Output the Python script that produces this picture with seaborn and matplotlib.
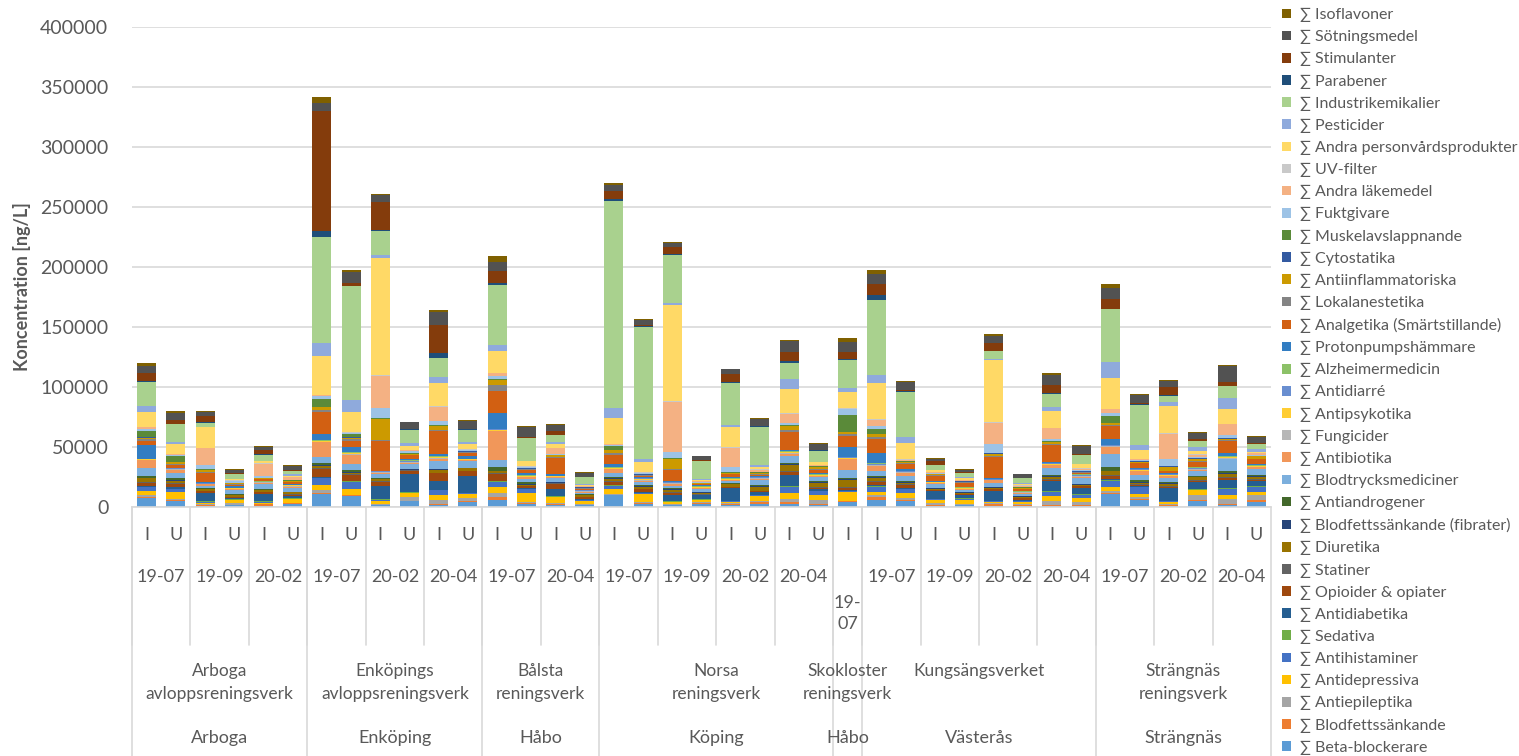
import numpy as np
import pandas as pd
import matplotlib
matplotlib.use("Agg")
import matplotlib.pyplot as plt
import seaborn as sns
from matplotlib.patches import Patch
from matplotlib.transforms import blended_transform_factory

# substance groups, bottom of the stack first
groups = ["Beta-blockerare", "Blodfettssänkande", "Antiepileptika", "Antidepressiva",
          "Antihistaminer", "Sedativa", "Antidiabetika", "Opioider & opiater", "Statiner",
          "Diuretika", "Blodfettssänkande (fibrater)", "Antiandrogener", "Blodtrycksmediciner",
          "Antibiotika", "Fungicider", "Antipsykotika", "Antidiarré", "Alzheimermedicin",
          "Protonpumpshämmare", "Analgetika (Smärtstillande)", "Lokalanestetika",
          "Antiinflammatoriska", "Cytostatika", "Muskelavslappnande", "Fuktgivare",
          "Andra läkemedel", "UV-filter", "Andra personvårdsprodukter", "Pesticider",
          "Industrikemikalier", "Parabener", "Stimulanter", "Sötningsmedel", "Isoflavoner"]
colors = ["#5B9BD5", "#ED7D31", "#A5A5A5", "#FFC000", "#4472C4", "#70AD47",
          "#255E91", "#9E480E", "#636363", "#997300", "#264478", "#43682B",
          "#7CAFDD", "#F1975A", "#B7B7B7", "#FFCD33", "#698ED0", "#8CC168",
          "#327DC2", "#D26012", "#848484", "#CC9A00", "#335AA1", "#5A8A39",
          "#9DC3E6", "#F4B183", "#C9C9C9", "#FFD966", "#8FAADC", "#A9D18E",
          "#1F4E79", "#843C0C", "#525252", "#7F6000"]

# x axis categories, one entry per bar
sample = ["I", "U", "I", "U", "I", "U",
          "I", "U", "I", "U", "I", "U",
          "I", "U", "I", "U",
          "I", "U", "I", "U", "I", "U", "I", "U",
          "I",
          "I", "U", "I", "U", "I", "U", "I", "U",
          "I", "U", "I", "U", "I", "U"]
date = ["19-07", "19-07", "19-09", "19-09", "20-02", "20-02",
        "19-07", "19-07", "20-02", "20-02", "20-04", "20-04",
        "19-07", "19-07", "20-04", "20-04",
        "19-07", "19-07", "19-09", "19-09", "20-02", "20-02", "20-04", "20-04",
        "19-07",
        "19-07", "19-07", "19-09", "19-09", "20-02", "20-02", "20-04", "20-04",
        "19-07", "19-07", "20-02", "20-02", "20-04", "20-04"]
plant = (["Arboga\navloppsreningsverk"] * 6 + ["Enköpings\navloppsreningsverk"] * 6
         + ["Bålsta\nreningsverk"] * 4 + ["Norsa\nreningsverk"] * 8
         + ["Skokloster\nreningsverk"] + ["Kungsängsverket"] * 8
         + ["Strängnäs\nreningsverk"] * 6)
kommun = (["Arboga"] * 6 + ["Enköping"] * 6 + ["Håbo"] * 4 + ["Köping"] * 8
          + ["Håbo"] + ["Västerås"] * 8 + ["Strängnäs"] * 6)

# concentrations in 1000 ng/L, same order as groups
arb_1907_i = [7.8, 0.5, 2, 2.8, 3.3, 0.5, 0.5, 2.8, 1, 2.8, 0.5, 1.7, 6, 7, 0.3, 0.3, 0.3, 0.3, 11, 3.6, 1.4, 1.4, 0.3, 5.6, 1.4, 1.4, 0.3, 12.5, 5, 20, 0.5, 6.7, 6.1, 2.8]
arb_1907_u = [5, 1, 0.5, 5.6, 2.8, 0.5, 1, 2.5, 0.8, 2, 0.5, 2, 4, 2.8, 0.5, 0.3, 0.3, 0.3, 0.5, 2.2, 1, 1, 0.3, 5, 1, 0.5, 0.3, 8, 2, 15, 0.3, 2.8, 6, 1.4]
arb_1909_i = [0.5, 1.5, 0.3, 1.4, 0.5, 0.5, 7, 1.4, 0.5, 1, 0.3, 1, 2, 1, 0.3, 0.3, 0.3, 0.3, 0.5, 8, 0.5, 1.7, 0.2, 0.3, 3.9, 14, 0.3, 17, 0.5, 3.3, 0.3, 5, 3.3, 0.8]
arb_1909_u = [1.5, 0.5, 1.5, 2, 0.5, 0.3, 0.8, 1, 0.5, 1.5, 0.3, 0.5, 3.3, 0.8, 0.3, 0.3, 0.3, 0.3, 1, 1.5, 0.5, 0.5, 0.2, 0.5, 1, 0.5, 0.5, 0.8, 0.5, 4, 0.2, 0.8, 2.5, 0.5]
arb_2002_i = [0.8, 1.8, 0.3, 0.8, 0.3, 0.8, 6, 1.4, 0.5, 1.4, 0.3, 0.5, 4, 1.4, 0.3, 0.3, 0.3, 0.3, 0.5, 1, 0.3, 0.5, 0.2, 0.3, 1.4, 10.5, 0.5, 1.4, 0.5, 5, 0.2, 4, 2.2, 0.8]
arb_2002_u = [2.8, 0.3, 0.5, 2.8, 0.5, 0.3, 2.2, 0.8, 0.5, 1.4, 0.3, 0.5, 3, 0.8, 0.5, 0.8, 0.3, 0.3, 0.5, 1.5, 0.5, 0.5, 0.2, 0.3, 0.5, 2, 0.8, 0.5, 1.2, 3, 0.2, 0.5, 3.3, 0.5]
enk_1907_i = [11, 0.5, 2.8, 4, 5.6, 0.5, 0.5, 7, 0.5, 2, 0.5, 1.4, 5.6, 12, 0.5, 0.5, 0.5, 0.5, 5, 18, 2, 2.2, 0.3, 7, 2.2, 0.5, 0.5, 32.6, 10.6, 88.3, 4.5, 100, 7, 4.7]
enk_1907_u = [8.9, 0.8, 0.5, 5, 5.6, 0.5, 0.5, 5, 0.5, 1.4, 0.5, 1.4, 5.6, 7.5, 0.5, 0.5, 0.5, 0.5, 4.7, 5, 1.2, 1.2, 0.3, 2.8, 0.5, 0.5, 0.5, 16.7, 9.7, 95, 0.5, 2.2, 9.7, 1]
enk_2002_i = [1.4, 0.5, 0.5, 2.8, 1, 0.3, 11.4, 3.3, 0.5, 1.4, 0.5, 0.8, 3.3, 0.8, 0.5, 0.3, 0.3, 0.3, 0.5, 25, 0.5, 17.3, 0.3, 0.8, 7.8, 27, 0.5, 98, 2, 20.3, 0.8, 23.4, 5.6, 0.8]
enk_2002_u = [4.7, 0.5, 2.8, 3.3, 0.5, 0.3, 15.3, 2.8, 0.5, 0.5, 0.3, 0.5, 4.2, 0.5, 0.5, 0.5, 1, 0.3, 1.4, 2.8, 0.5, 0.5, 0.3, 0.3, 1.9, 0.5, 0.5, 2.8, 2.8, 11, 0.3, 0.5, 5.6, 0.5]
enk_2004_i = [2, 0.5, 3, 4.2, 4.2, 0.5, 7.2, 6.4, 0.5, 2.5, 0.5, 0.5, 6.4, 2, 0.5, 0.5, 0.5, 0.5, 1.4, 19.5, 0.5, 3.6, 0.3, 0.5, 3.3, 12, 0.5, 19.5, 5, 16, 4.2, 23, 10.9, 1.5]
enk_2004_u = [4.2, 0.5, 2.8, 3.3, 0.5, 0.3, 14.5, 3.6, 0.5, 1.9, 0.3, 0.5, 5.6, 0.5, 0.3, 0.3, 0.5, 0.3, 1.9, 2.8, 0.5, 0.5, 0.3, 0.3, 0.5, 0.5, 0.5, 4, 2.2, 10, 0.3, 0.5, 6.4, 0.8]
bal_1907_i = [6.1, 2.2, 3.3, 5, 4.2, 0.5, 0.5, 6.1, 0.5, 1.4, 0.5, 2.8, 6.4, 23.7, 0.5, 0.5, 0.5, 0.5, 13.4, 18, 5, 3.9, 0.5, 1, 2.5, 1.9, 0.5, 18, 4.7, 50, 2.2, 9.7, 7.5, 5]
bal_1907_u = [2.8, 0.5, 0.5, 7.5, 3.6, 0.5, 0.5, 1.4, 0.5, 0.8, 0.5, 1.4, 2.8, 1.4, 0.5, 0.5, 0.5, 0.5, 2, 2.2, 0.5, 0.5, 0.3, 0.5, 0.5, 0.5, 0.5, 3.9, 0.5, 19, 0.3, 0.8, 7.8, 0.8]
bal_2004_i = [2, 0.5, 0.5, 5, 0.5, 0.3, 6.1, 4.2, 0.5, 0.8, 0.3, 0.5, 2.8, 0.8, 0.5, 0.3, 0.3, 0.3, 1.4, 13.5, 0.5, 1.4, 0.3, 0.3, 0.5, 4.7, 0.5, 3.6, 1.4, 5.6, 0.3, 2.8, 5.3, 0.8]
bal_2004_u = [1.4, 0.5, 0.5, 2.8, 0.5, 0.3, 0.8, 1.4, 0.5, 1.1, 0.3, 0.5, 1.4, 0.8, 0.5, 0.3, 0.3, 0.3, 0.3, 0.8, 0.3, 0.5, 0.2, 0.2, 0.5, 0.5, 0.3, 0.5, 0.8, 5.6, 0.2, 0.3, 3.3, 0.3]
nor_1907_i = [9.7, 0.5, 0.5, 4.2, 2.8, 0.5, 0.5, 2.2, 0.5, 2, 0.5, 1.4, 3.3, 2.8, 0.5, 0.5, 0.5, 0.5, 2.8, 7, 1.4, 2.8, 0.3, 2.8, 1.4, 0.5, 0.5, 21.2, 8, 173, 1.4, 7, 4.7, 1.4]
nor_1907_u = [2.8, 0.5, 0.5, 7.2, 0.5, 0.5, 0.8, 2, 0.5, 1.4, 0.5, 1.4, 2.2, 0.8, 0.5, 1.4, 0.3, 0.5, 0.8, 0.8, 0.5, 0.5, 0.3, 0.5, 0.5, 0.5, 0.5, 8.4, 2.2, 110.5, 0.5, 0.5, 4.2, 0.8]
nor_1909_i = [1.4, 0.5, 0.5, 1.4, 0.5, 0.5, 5.6, 1.4, 0.5, 2, 0.5, 0.8, 2.2, 1.4, 0.5, 0.5, 0.5, 0.5, 0.8, 9.2, 0.8, 7.8, 0.3, 0.5, 5, 41.8, 0.8, 80, 2.2, 40, 0.5, 6.1, 2.8, 0.8]
nor_1909_u = [2.8, 0.5, 0.5, 1.7, 0.5, 0.3, 3.3, 0.8, 0.5, 1.1, 0.3, 0.5, 2, 0.8, 0.5, 0.5, 0.3, 0.3, 0.8, 0.8, 0.5, 0.5, 0.2, 0.3, 0.5, 0.5, 0.5, 1, 0.5, 15, 0.3, 0.5, 3.3, 0.5]
nor_2002_i = [2, 0.5, 0.5, 1.4, 0.5, 0.3, 10.3, 0.8, 0.5, 2, 0.5, 0.5, 2, 0.8, 0.3, 0.3, 0.3, 0.3, 1.4, 2, 0.5, 0.5, 0.3, 0.5, 4.5, 15.9, 0.5, 16.7, 1.9, 35, 0.5, 7, 3.6, 0.8]
nor_2002_u = [2.8, 1.4, 0.5, 4.7, 0.5, 0.3, 2.2, 0.8, 0.5, 3.3, 0.5, 0.5, 4.2, 1.1, 0.5, 0.5, 0.5, 0.5, 0.5, 1.1, 0.5, 0.8, 0.3, 0.5, 0.5, 1.4, 0.5, 2, 1.4, 32, 0.3, 0.5, 5.6, 0.8]
nor_2004_i = [2.8, 1.4, 2.8, 4.7, 5, 0.5, 9.5, 2.8, 0.5, 5, 0.5, 1.4, 5.6, 2, 0.5, 0.5, 0.5, 0.5, 0.8, 15.3, 1.4, 3.3, 0.3, 0.5, 2.2, 7.5, 0.8, 19.5, 8.9, 13, 2, 7, 9.2, 1.2]
nor_2004_u = [2, 0.5, 3, 4.2, 3.6, 0.3, 1.1, 1.4, 0.5, 3.5, 0.5, 0.8, 3.3, 0.8, 0.5, 0.5, 0.5, 0.5, 0.5, 2.8, 0.5, 2, 0.3, 0.3, 0.5, 0.5, 0.5, 1.9, 0.5, 9, 0.3, 0.5, 5, 0.8]
sko_1907_i = [4.2, 0.5, 0.5, 7, 0.8, 0.5, 0.5, 2, 0.5, 6.1, 0.5, 0.8, 7, 8.9, 0.5, 0.5, 0.5, 0.5, 7.8, 9.5, 1.7, 1.4, 0.3, 13.9, 5, 0.5, 0.5, 13.4, 3.6, 23.1, 0.5, 5.8, 8.9, 3.3]
kun_1907_i = [6.1, 2.2, 1.4, 2.8, 4.2, 0.5, 0.8, 2.8, 0.5, 2.8, 0.5, 1.4, 3.9, 4.5, 0.5, 0.5, 0.5, 0.5, 8.4, 12, 1.9, 2.2, 0.3, 4.2, 1.9, 5.6, 0.5, 30, 7, 62, 3.9, 9.2, 8.4, 3.3]
kun_1907_u = [5, 0.8, 1.4, 4.2, 3.3, 0.5, 0.5, 2.8, 0.5, 1.1, 0.5, 1.4, 4.2, 2.2, 0.5, 0.5, 0.5, 0.5, 1.4, 4.2, 0.5, 0.8, 0.3, 0.5, 0.5, 0.5, 0.5, 13.9, 4.7, 38, 0.5, 0.8, 7, 0.8]
kun_1909_i = [0.8, 0.5, 1.9, 2.8, 0.5, 0.3, 6.4, 0.8, 0.5, 0.8, 0.3, 0.5, 2.8, 0.8, 0.3, 0.5, 0.3, 0.3, 0.5, 4.5, 0.5, 0.8, 0.2, 0.3, 0.5, 0.5, 0.5, 1.1, 0.5, 4, 0.3, 2.8, 1.9, 0.8]
kun_1909_u = [1.4, 0.5, 0.5, 3.3, 1.1, 0.3, 2.8, 0.8, 0.5, 0.8, 0.3, 0.5, 1.5, 0.8, 0.3, 0.3, 0.3, 0.3, 0.5, 3.5, 0.3, 0.5, 0.2, 0.2, 0.5, 0.5, 0.3, 1.4, 0.5, 3.6, 0.2, 0.8, 1.9, 0.5]
kun_2002_i = [0.8, 2, 0.3, 1.4, 0.5, 0.3, 8.4, 1.1, 0.5, 0.8, 0.3, 0.5, 3.3, 2, 0.3, 0.3, 0.3, 0.3, 0.8, 17.5, 0.5, 2.2, 0.3, 0.5, 7.5, 17.5, 0.5, 52, 0.8, 6.1, 0.5, 6.4, 6.1, 1.4]
kun_2002_u = [1.1, 0.5, 0.5, 2.2, 0.5, 0.3, 1.1, 1.1, 0.5, 0.8, 0.3, 0.5, 1.4, 0.8, 0.5, 0.3, 0.3, 0.3, 0.5, 1.4, 0.3, 0.8, 0.2, 0.3, 0.5, 0.8, 0.5, 0.8, 0.5, 4.2, 0.2, 0.5, 2.8, 0.3]
kun_2004_i = [1.1, 0.5, 3.6, 3.9, 3.6, 0.5, 8.6, 0.8, 0.5, 2.2, 0.5, 0.8, 6.1, 2.2, 0.5, 0.5, 0.5, 0.5, 0.8, 13.9, 0.8, 1.4, 0.3, 0.5, 2.2, 8.9, 0.5, 13.9, 3, 10.9, 0.8, 7, 8.4, 1.2]
kun_2004_u = [1.1, 0.5, 2.2, 3.6, 2.8, 0.3, 5.6, 1.1, 0.5, 0.8, 0.3, 0.5, 5, 0.8, 0.5, 0.5, 0.5, 0.5, 0.5, 1.1, 0.3, 0.5, 0.3, 0.3, 0.5, 1.1, 0.5, 3.3, 0.5, 7, 0.3, 0.5, 7.2, 0.5]
str_1907_i = [11, 0.8, 1.4, 3.6, 5, 1.1, 0.5, 2.8, 0.8, 2.8, 0.5, 3.3, 10.3, 6.1, 0.5, 0.5, 0.5, 0.5, 4.7, 10.6, 1.1, 1.4, 0.3, 5.6, 2.8, 2.8, 0.5, 25.9, 13.1, 44, 0.5, 8.4, 9.2, 3.3]
str_1907_u = [6.1, 0.8, 1.1, 2.8, 5.6, 0.5, 0.8, 0.8, 0.5, 1.1, 0.5, 2.2, 4.2, 2.8, 0.5, 0.5, 0.5, 0.5, 0.5, 4.2, 0.5, 0.8, 0.3, 0.5, 0.5, 0.5, 0.5, 7, 4.2, 34, 0.5, 0.5, 7, 0.8]
str_2002_i = [1.1, 0.5, 0.5, 2.2, 0.5, 0.5, 10.6, 0.8, 0.5, 2.2, 0.5, 0.8, 3.6, 1.4, 0.5, 0.5, 0.5, 0.5, 0.5, 1.7, 0.5, 3.3, 0.3, 0.5, 5.6, 20.9, 0.5, 23, 2.8, 5.6, 0.5, 7, 5, 0.8]
str_2002_u = [5, 0.5, 4.2, 4.2, 0.5, 0.3, 6.4, 0.8, 0.5, 2.2, 0.3, 0.8, 4.5, 0.8, 0.5, 0.5, 0.5, 0.5, 0.5, 4.2, 0.5, 2.2, 0.3, 0.5, 0.5, 1.9, 0.5, 2.8, 2.8, 5, 0.3, 1.4, 5.6, 0.8]
str_2004_i = [1.4, 1.4, 3.6, 3.9, 5, 0.5, 6.4, 2.2, 0.5, 2.8, 0.5, 2.2, 9.2, 0.8, 0.5, 0.5, 0.5, 0.5, 2.2, 10.3, 1.1, 0.8, 0.3, 0.5, 2.8, 8.4, 0.5, 12.5, 9.2, 9.7, 0.5, 3.3, 13.4, 0.8]
str_2004_u = [4.2, 1.4, 4.2, 2.8, 4.2, 0.5, 4.5, 0.8, 0.5, 2.2, 0.5, 0.8, 5, 1.4, 0.5, 0.5, 0.5, 0.5, 0.5, 4.2, 0.5, 1.9, 0.3, 0.5, 0.5, 1.4, 0.5, 0.8, 2.2, 4, 0.3, 0.5, 5.5, 0.5]

bars = [arb_1907_i, arb_1907_u, arb_1909_i, arb_1909_u, arb_2002_i, arb_2002_u,
        enk_1907_i, enk_1907_u, enk_2002_i, enk_2002_u, enk_2004_i, enk_2004_u,
        bal_1907_i, bal_1907_u, bal_2004_i, bal_2004_u,
        nor_1907_i, nor_1907_u, nor_1909_i, nor_1909_u, nor_2002_i, nor_2002_u, nor_2004_i, nor_2004_u,
        sko_1907_i,
        kun_1907_i, kun_1907_u, kun_1909_i, kun_1909_u, kun_2002_i, kun_2002_u, kun_2004_i, kun_2004_u,
        str_1907_i, str_1907_u, str_2002_i, str_2002_u, str_2004_i, str_2004_u]

ids = [f"{p}|{d}|{s}" for p, d, s in zip(plant, date, sample)]
df = pd.DataFrame(dict(zip(ids, bars)), index=groups) * 1000
cum = df.cumsum(axis=0)

sns.set_theme(style="white")
plt.rcParams['font.family'] = ['Lato', 'DejaVu Sans']
txt = "#595959"
line_c = "#D9D9D9"

fig = plt.figure(figsize=(15.19, 7.56), dpi=100)
ax = fig.add_axes([132 / 1519, 1 - 507 / 756, 1139 / 1519, 480 / 756])

# stacked bars: draw the running totals from the top group down
for k in range(len(groups) - 1, -1, -1):
    sns.barplot(x=ids, y=cum.iloc[k].values, order=ids, color=colors[k], saturation=1,
                width=0.65, errorbar=None, linewidth=0, ax=ax)

ax.set_ylim(0, 400000)
ax.set_xlim(-0.5, len(ids) - 0.5)
ax.set_yticks(np.arange(0, 400001, 50000))
ax.yaxis.grid(True, color=line_c, lw=1.2)
ax.set_axisbelow(True)
for s in ["top", "left", "right"]:
    ax.spines[s].set_visible(False)
ax.spines["bottom"].set_color(line_c)
ax.spines["bottom"].set_linewidth(1.2)
ax.set_xticks([])
ax.set_xlabel("")
ax.tick_params(axis="y", length=0, pad=17, labelsize=14, labelcolor=txt)
ax.set_ylabel("Koncentration [ng/L]", fontsize=13, fontweight="bold", color=txt)
ax.yaxis.set_label_coords(-0.089, 0.46)

# multi-level category axis
tr = blended_transform_factory(ax.transData, ax.transAxes)


def runs(keys):
    out, start = [], 0
    for i in range(1, len(keys) + 1):
        if i == len(keys) or keys[i] != keys[start]:
            out.append((start, i - 1, keys[start]))
            start = i
    return out


for i, s in enumerate(sample):
    ax.text(i, -0.058, s, transform=tr, ha="center", va="center", fontsize=13, color=txt)

for a, b, key in runs(list(zip(plant, date))):
    d = key[1]
    if a == b:
        ax.text(a, -0.222, d.replace("-", "-\n"), transform=tr, ha="center", va="center",
                fontsize=13, color=txt, linespacing=1.4)
    else:
        ax.text((a + b) / 2, -0.146, d, transform=tr, ha="center", va="center",
                fontsize=13, color=txt)
    ax.plot([a - 0.5, a - 0.5], [0, -0.288], transform=tr, color=line_c, lw=1.2, clip_on=False)

for a, b, p in runs(plant):
    ax.text((a + b) / 2, -0.325, p, transform=tr, ha="center", va="top",
            fontsize=12.5, color=txt, linespacing=1.55)
    ax.plot([a - 0.5, a - 0.5], [0, -0.52], transform=tr, color=line_c, lw=1.2, clip_on=False)

for a, b, m in runs(kommun):
    ax.text((a + b) / 2, -0.481, m, transform=tr, ha="center", va="center",
            fontsize=13, color=txt)
n = len(ids)
ax.plot([n - 0.5, n - 0.5], [0, -0.52], transform=tr, color=line_c, lw=1.2, clip_on=False)

# legend, top group first
handles = [Patch(facecolor=c, edgecolor="none") for c in colors[::-1]]
labels = ["∑ " + g for g in groups[::-1]]
fig.legend(handles, labels, loc="upper left", bbox_to_anchor=(1282 / 1519, 1 - 8 / 756),
           frameon=False, fontsize=11.5, labelcolor=txt, handlelength=0.55, handleheight=0.55,
           handletextpad=0.6, labelspacing=0.5, borderpad=0, borderaxespad=0)

fig.savefig("out.png", dpi=100)
